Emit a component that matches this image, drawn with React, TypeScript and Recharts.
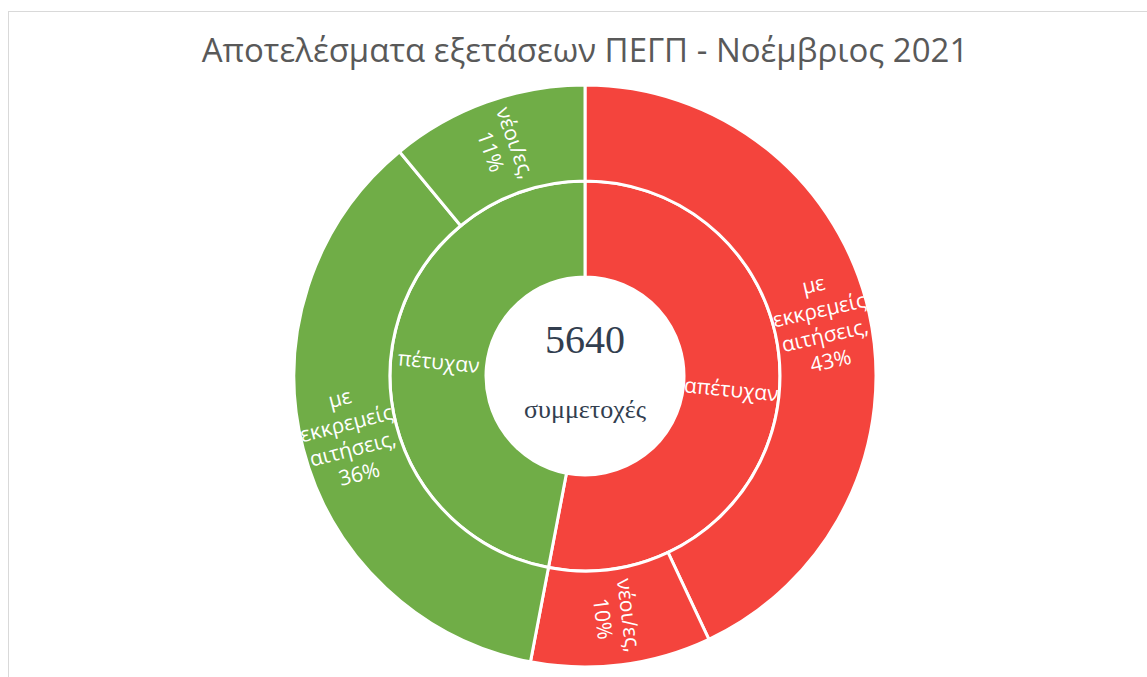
import { PieChart, Pie, Cell } from 'recharts'

// inner ring: result
const innerNames = ['απέτυχαν', 'πέτυχαν']
const innerValues = [53, 47]
const innerColors = ['#F4443D', '#70AD47']

// outer ring: breakdown, in same order as parents
const outerNames = ['με εκκρεμείς αιτήσεις', 'νέοι/ες', 'με εκκρεμείς αιτήσεις', 'νέοι/ες']
const outerValues = [43, 10, 36, 11]
const outerParents = [0, 0, 1, 1]

const totalEntries = 5640
const titleText = 'Αποτελέσματα εξετάσεων ΠΕΓΠ - Νοέμβριος 2021'
const centerCaption = 'συμμετοχές'

const innerData = innerNames.map((name, i) => ({ name, value: innerValues[i] }))
const outerData = outerNames.map((name, i) => ({
  name,
  value: outerValues[i],
  parent: outerParents[i],
}))

const RAD = Math.PI / 180
const FONT = '"Open Sans", "Noto Sans", sans-serif'
const SERIF = '"Liberation Serif", "DejaVu Serif", serif'

const polar = (cx: number, cy: number, r: number, a: number) => [
  cx + r * Math.cos(-a * RAD),
  cy + r * Math.sin(-a * RAD),
]

function sectorPath(cx: number, cy: number, ri: number, ro: number, sa: number, ea: number) {
  const large = Math.abs(ea - sa) > 180 ? 1 : 0
  const sweep = sa > ea ? 1 : 0
  const [x1, y1] = polar(cx, cy, ro, sa)
  const [x2, y2] = polar(cx, cy, ro, ea)
  const [x3, y3] = polar(cx, cy, ri, ea)
  const [x4, y4] = polar(cx, cy, ri, sa)
  return `M${x1},${y1} A${ro},${ro} 0 ${large} ${sweep} ${x2},${y2} L${x3},${y3} A${ri},${ri} 0 ${large} ${1 - sweep} ${x4},${y4} Z`
}

// radial label, rotated like the office sunburst does
const makeLabel = (withPercent: boolean, prefix: string) => (props: any) => {
  const { cx, cy, midAngle, innerRadius, outerRadius, startAngle, endAngle, name, value, index } = props
  const r = (innerRadius + outerRadius) / 2
  const [x, y] = polar(cx, cy, r, midAngle)
  let rot = -midAngle
  while (rot > 90) rot -= 180
  while (rot < -90) rot += 180
  const lines: string[] = withPercent
    ? [...name.split(' ').map((w: string, i: number, arr: string[]) => (i === arr.length - 1 ? w + ',' : w)), `${value}%`]
    : [name]
  const lh = 26
  const id = `${prefix}-clip-${index}`
  return (
    <g>
      <defs>
        <clipPath id={id}>
          <path d={sectorPath(cx, cy, innerRadius, outerRadius, startAngle, endAngle)} />
        </clipPath>
      </defs>
      <g clipPath={`url(#${id})`}>
        <text
          x={x}
          y={y}
          textAnchor="middle"
          fill="#ffffff"
          fontSize={21}
          fontFamily={FONT}
          transform={`rotate(${rot}, ${x}, ${y})`}
        >
          {lines.map((ln, i) => (
            <tspan key={i} x={x} dy={i === 0 ? -((lines.length - 1) / 2) * lh + 7 : lh}>
              {ln}
            </tspan>
          ))}
        </text>
      </g>
    </g>
  )
}

export default function App() {
  const cx = 576
  const cy = 364
  return (
    <div
      style={{
        position: 'fixed',
        left: 8,
        top: 11,
        width: 1139,
        height: 666,
        borderTop: '1px solid #d9d9d9',
        borderLeft: '1px solid #d9d9d9',
        boxSizing: 'border-box',
        background: '#ffffff',
        overflow: 'hidden',
      }}
    >
      <PieChart width={1138} height={665} margin={{ top: 0, right: 0, bottom: 0, left: 0 }}>
        <text
          x={576}
          y={50}
          textAnchor="middle"
          fill="#595959"
          fontSize={33}
          fontFamily={FONT}
        >
          {titleText}
        </text>
        <Pie
          data={innerData}
          dataKey="value"
          nameKey="name"
          cx={cx}
          cy={cy}
          innerRadius={99}
          outerRadius={195}
          startAngle={90}
          endAngle={-270}
          stroke="#ffffff"
          strokeWidth={3}
          labelLine={false}
          label={makeLabel(false, 'inner')}
          isAnimationActive={false}
        >
          {innerData.map((d, i) => (
            <Cell key={d.name} fill={innerColors[i]} />
          ))}
        </Pie>
        <Pie
          data={outerData}
          dataKey="value"
          nameKey="name"
          cx={cx}
          cy={cy}
          innerRadius={195}
          outerRadius={291}
          startAngle={90}
          endAngle={-270}
          stroke="#ffffff"
          strokeWidth={3}
          labelLine={false}
          label={makeLabel(true, 'outer')}
          isAnimationActive={false}
        >
          {outerData.map((d, i) => (
            <Cell key={i} fill={innerColors[d.parent]} />
          ))}
        </Pie>
        <text x={cx} y={341} textAnchor="middle" fill="#323E4F" fontSize={40} fontFamily={SERIF}>
          {totalEntries}
        </text>
        <text x={cx} y={406} textAnchor="middle" fill="#323E4F" fontSize={26} fontFamily={SERIF}>
          {centerCaption}
        </text>
      </PieChart>
    </div>
  )
}
